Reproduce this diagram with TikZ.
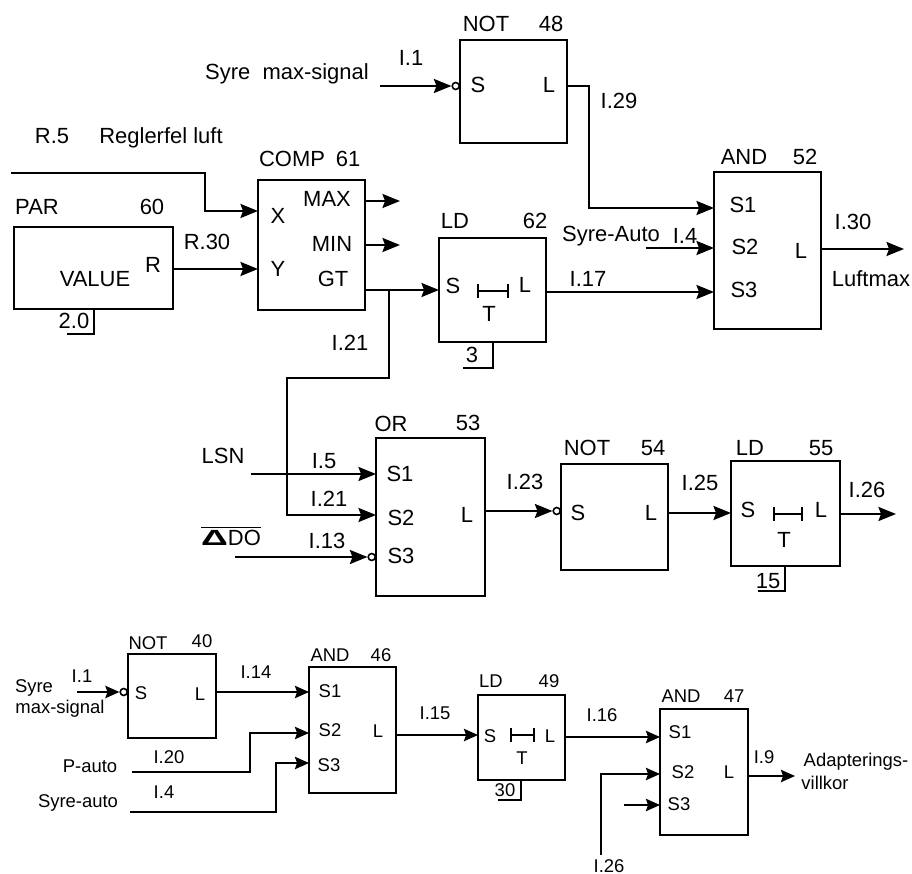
\documentclass[tikz,border=0pt]{standalone}
\usepackage{fontspec}
\setmainfont{Liberation Sans}
\usetikzlibrary{arrows.meta, fit}

\begin{document}
\begin{tikzpicture}[
    x=0.02cm, y=-0.02cm,
    block/.style={draw, line width=1.3pt, inner sep=0pt, outer sep=0pt},
    lab/.style={anchor=base, inner sep=0pt, font=\fontsize{12.5}{15}\selectfont},
    lowlab/.style={anchor=base, inner sep=0pt, font=\fontsize{10.5}{12}\selectfont},
    plain/.style={line width=1.2pt},
    wire/.style={plain, -{Stealth[length=10pt, width=8pt, inset=1.5pt]}},
    lowwire/.style={plain, -{Stealth[length=8pt, width=7pt, inset=1.2pt]}},
    timer/.style={line width=1.3pt, {Bar[width=8pt]}-{Bar[width=8pt]}},
    bubble/.style={circle, draw, fill=white, line width=0.9pt, inner sep=0pt, minimum size=0.14cm, anchor=east},
]
\useasboundingbox (0,0) rectangle (912,874);

% Blocks
\node[block, fit={(460,40) (567,143)}] (not48) {};
\node[block, fit={(714,172) (821,329)}] (and52) {};
\node[block, fit={(14,227) (173,309)}] (par60) {};
\node[block, fit={(258,180) (365,310)}] (comp61) {};
\node[block, fit={(439,238) (546,342)}] (ld62) {};
\node[block, fit={(376,438) (485,596)}] (or53) {};
\node[block, fit={(561,464) (668,570)}] (not54) {};
\node[block, fit={(731,461) (840,566)}] (ld55) {};
\node[block, fit={(128,654) (216,738)}] (not40) {};
\node[block, fit={(309,667) (396,793)}] (and46) {};
\node[block, fit={(478,695) (565,780)}] (ld49) {};
\node[block, fit={(660,709) (748,835)}] (and47) {};

% Block NOT 48
\node[lab] (not48t) at (486,32) {NOT};
\node[lab] (not48n) at (551,32) {48};
\node[lab] (not48s) at (478,93) {S};
\node[lab] (not48l) at (549,93) {L};

% Block AND 52
\node[lab] (and52t) at (744,165) {AND};
\node[lab] (and52n) at (805,165) {52};
\node[lab] (and52a) at (743,213) {S1};
\node[lab] (and52b) at (745,255) {S2};
\node[lab] (and52c) at (744,298) {S3};
\node[lab] (and52l) at (801,259) {L};

% Block PAR 60
\node[lab] (par60t) at (37,215) {PAR};
\node[lab] (par60n) at (152,215) {60};
\node[lab] (par60r) at (153,273) {R};
\node[lab] (par60v) at (95,287) {VALUE};
\node[lab] (par60m) at (74,329) {2.0};

% Block COMP 61
\node[lab] (comp61t) at (292,167) {COMP};
\node[lab] (comp61n) at (348,167) {61};
\node[lab] (comp61x) at (278,224) {X};
\node[lab] (comp61y) at (278,277) {Y};
\node[lab] (comp61a) at (327,207) {MAX};
\node[lab] (comp61b) at (332,252) {MIN};
\node[lab] (comp61c) at (333,287) {GT};

% Block LD 62
\node[lab] (ld62t) at (455,229) {LD};
\node[lab] (ld62n) at (535,229) {62};
\node[lab] (ld62s) at (453,294) {S};
\node[lab] (ld62l) at (525,293) {L};
\node[lab] (ld62d) at (489,322) {T};
\node[lab] (ld62m) at (472,363) {3};

% Block OR 53
\node[lab] (or53t) at (391,432) {OR};
\node[lab] (or53n) at (468,430) {53};
\node[lab] (or53a) at (400,481) {S1};
\node[lab] (or53b) at (401,525) {S2};
\node[lab] (or53c) at (401,563) {S3};
\node[lab] (or53l) at (467,522) {L};

% Block NOT 54
\node[lab] (not54t) at (587,456) {NOT};
\node[lab] (not54n) at (653,456) {54};
\node[lab] (not54s) at (578,520) {S};
\node[lab] (not54l) at (651,520) {L};

% Block LD 55
\node[lab] (ld55t) at (750,456) {LD};
\node[lab] (ld55n) at (821,456) {55};
\node[lab] (ld55s) at (748,517) {S};
\node[lab] (ld55l) at (821,517) {L};
\node[lab] (ld55d) at (784,547) {T};
\node[lab] (ld55m) at (768,588) {15};

% Block NOT 40
\node[lowlab] (not40t) at (148,649) {NOT};
\node[lowlab] (not40n) at (202,647) {40};
\node[lowlab] (not40s) at (141,699) {S};
\node[lowlab] (not40l) at (200,700) {L};

% Block AND 46
\node[lowlab] (and46t) at (330,661) {AND};
\node[lowlab] (and46n) at (381,661) {46};
\node[lowlab] (and46a) at (330,697) {S1};
\node[lowlab] (and46b) at (330,736) {S2};
\node[lowlab] (and46c) at (329,771) {S3};
\node[lowlab] (and46l) at (378,737) {L};

% Block LD 49
\node[lowlab] (ld49t) at (491,687) {LD};
\node[lowlab] (ld49n) at (549,687) {49};
\node[lowlab] (ld49s) at (490,742) {S};
\node[lowlab] (ld49l) at (550,742) {L};
\node[lowlab] (ld49d) at (522,764) {T};
\node[lowlab] (ld49m) at (505,796) {30};

% Block AND 47
\node[lowlab] (and47t) at (681,702) {AND};
\node[lowlab] (and47n) at (734,702) {47};
\node[lowlab] (and47a) at (680,738) {S1};
\node[lowlab] (and47b) at (683,778) {S2};
\node[lowlab] (and47c) at (679,810) {S3};
\node[lowlab] (and47l) at (729,778) {L};

% Signal names, upper part
\node[lab] (syre) at (287,80) {Syre\ \ max-signal};
\node[lab] (i1) at (411,66) {I.1};
\node[lab] (r5) at (52,144) {R.5};
\node[lab] (regler) at (161,144) {Reglerfel luft};
\node[lab] (r30) at (207,250) {R.30};
\node[lab] (i21) at (350,351) {I.21};
\node[lab] (i29) at (619,109) {I.29};
\node[lab] (syreauto) at (611,242) {Syre-Auto};
\node[lab] (i4) at (685,244) {I.4};
\node[lab] (i17) at (588,287) {I.17};
\node[lab] (i30) at (853,230) {I.30};
\node[lab] (luftmax) at (871,287) {Luftmax};
\node[lab] (lsn) at (223,463) {LSN};
\node[lab] (i5) at (324,468) {I.5};
\node[lab] (i21b) at (329,506) {I.21};
\node[lab] (deltado) at (231,545) {$\overline{\hbox{\scalebox{1.7}[1]{\bfseries Δ}DO}}$};
\node[lab] (i13) at (327,548) {I.13};
\node[lab] (i23) at (525,489) {I.23};
\node[lab] (i25) at (700,490) {I.25};
\node[lab] (i26) at (867,497) {I.26};

% Signal names, lower part
\node[lowlab] (syrelow) at (34,692) {Syre};
\node[lowlab] (maxsig) at (60,713) {max-signal};
\node[lowlab] (i1low) at (82,682) {I.1};
\node[lowlab] (i14) at (256,678) {I.14};
\node[lowlab] (i15) at (435,719) {I.15};
\node[lowlab] (i20) at (169,763) {I.20};
\node[lowlab] (pauto) at (90,772) {P-auto};
\node[lowlab] (i4low) at (164,798) {I.4};
\node[lowlab] (syrelowauto) at (78,807) {Syre-auto};
\node[lowlab] (i16) at (602,721) {I.16};
\node[lowlab] (i9) at (764,763) {I.9};
\node[lowlab] (adapt) at (856,766) {Adapterings-};
\node[lowlab] (villkor) at (825,789) {villkor};
\node[lowlab] (i26low) at (609,872) {I.26};

% Free ends and corners of the connectors
\coordinate (syrein) at (380,86);
\coordinate (r5in) at (11,173);
\coordinate (r5x) at (205,211);
\coordinate (r30y) at (0,269);
\coordinate (maxout) at (400,201);
\coordinate (minout) at (400,245);
\coordinate (gty) at (0,290);
\coordinate (gtj) at (389,290);
\coordinate (i21c) at (287,378);
\coordinate (i21d) at (287,515);
\coordinate (lsnin) at (251,474);
\coordinate (dein) at (235,557);
\coordinate (or53y) at (0,511);
\coordinate (not54y) at (0,513);
\coordinate (out26) at (896,514);
\coordinate (l48a) at (589,86);
\coordinate (l48b) at (589,208);
\coordinate (autoin) at (646,248);
\coordinate (i17y) at (0,292);
\coordinate (out30) at (904,249);
\coordinate (syrelowin) at (77,692);
\coordinate (i14y) at (0,692);
\coordinate (pautoin) at (132,772);
\coordinate (pautob) at (250,733);
\coordinate (autolowin) at (130,812);
\coordinate (autolowb) at (276,763);
\coordinate (i15y) at (0,735);
\coordinate (i16y) at (0,737);
\coordinate (i26in) at (601,855);
\coordinate (i26b) at (601,774);
\coordinate (s3in) at (624,805);
\coordinate (out9) at (795,776);

% Inverting inputs
\node[bubble] (inv48) at (not48.west |- syrein) {};
\node[bubble] (inv53) at (or53.west |- dein) {};
\node[bubble] (inv54) at (not54.west |- or53y) {};
\node[bubble] (inv40) at (not40.west |- syrelowin) {};

% Connectors, upper part
\draw[wire] (syrein) -- (inv48);
\draw[wire] (r5in) -| (r5x) -- (comp61.west |- r5x);
\draw[wire] (par60.east |- r30y) -- (comp61.west |- r30y);
\draw[wire] (comp61.east |- maxout) -- (maxout);
\draw[wire] (comp61.east |- minout) -- (minout);
\draw[wire] (comp61.east |- gty) -- (ld62.west |- gty);
\draw[wire] (gtj) |- (i21c) -- (i21d) -- (or53.west |- i21d);
\draw[wire] (lsnin) -- (or53.west |- lsnin);
\draw[wire] (dein) -- (inv53);
\draw[wire] (or53.east |- or53y) -- (inv54);
\draw[wire] (not54.east |- not54y) -- (ld55.west |- not54y);
\draw[wire] (ld55.east |- out26) -- (out26);
\draw[wire] (not48.east |- l48a) -- (l48a) -- (l48b) -- (and52.west |- l48b);
\draw[wire] (autoin) -- (and52.west |- autoin);
\draw[wire] (ld62.east |- i17y) -- (and52.west |- i17y);
\draw[wire] (and52.east |- out30) -- (out30);

% Connectors, lower part
\draw[lowwire] (syrelowin) -- (inv40);
\draw[lowwire] (not40.east |- i14y) -- (and46.west |- i14y);
\draw[lowwire] (pautoin) -| (pautob) -- (and46.west |- pautob);
\draw[lowwire] (autolowin) -| (autolowb) -- (and46.west |- autolowb);
\draw[lowwire] (and46.east |- i15y) -- (ld49.west |- i15y);
\draw[lowwire] (ld49.east |- i16y) -- (and47.west |- i16y);
\draw[lowwire] (i26in) -- (i26b) -- (and47.west |- i26b);
\draw[lowwire] (s3in) -- (and47.west |- s3in);
\draw[lowwire] (and47.east |- out9) -- (out9);

% Delay bars
\coordinate (bar62a) at (477,291);
\coordinate (bar62b) at (509,291);
\coordinate (bar55a) at (773,514);
\coordinate (bar55b) at (803,514);
\coordinate (bar49a) at (510,735);
\coordinate (bar49b) at (535,735);
\draw[timer] (bar62a) -- (bar62b);
\draw[timer] (bar55a) -- (bar55b);
\draw[timer] (bar49a) -- (bar49b);

% Hooks under the value labels
\coordinate (hook60a) at (94,334);
\coordinate (hook60b) at (67,334);
\coordinate (hook62a) at (493,368);
\coordinate (hook62b) at (463,368);
\coordinate (hook55a) at (785,591);
\coordinate (hook55b) at (758,591);
\coordinate (hook49a) at (521,800);
\coordinate (hook49b) at (498,800);
\draw[plain] (par60.south -| hook60a) -- (hook60a) -- (hook60b);
\draw[plain] (ld62.south -| hook62a) -- (hook62a) -- (hook62b);
\draw[plain] (ld55.south -| hook55a) -- (hook55a) -- (hook55b);
\draw[plain] (ld49.south -| hook49a) -- (hook49a) -- (hook49b);

\end{tikzpicture}
\end{document}
